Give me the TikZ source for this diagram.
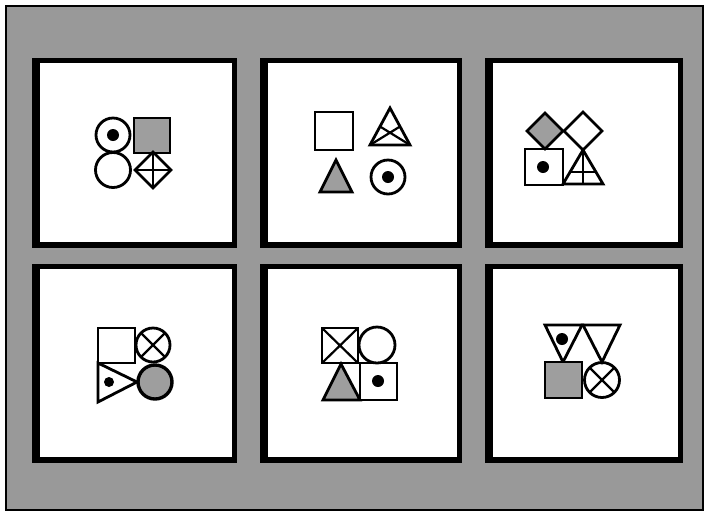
\documentclass[tikz,border=0pt]{standalone}
\begin{document}
\begin{tikzpicture}[x=1pt,y=-1pt,
  shp/.style={draw=black,line width=2.8pt,line join=miter},
  inl/.style={draw=black,line width=2.2pt},
  gf/.style={fill=black!38},
  dotc/.style={fill=black}]
\useasboundingbox (0,0) rectangle (708,515);
\fill[white] (0,0) rectangle (708,515);
\fill[black!40] (6,6) rectangle (703,510);
\draw[line width=2pt] (6,6) rectangle (703,510);
% panels
\foreach \xa/\xb in {32/237, 260/462, 485/683}{
  \foreach \ya/\yb in {58/248, 264/463}{
    \fill[black] (\xa,\ya) rectangle (\xb,\yb);
    \fill[white] (\xa+8,\ya+5) rectangle (\xb-5,\yb-6);
  }
}
% ---- panel 1
\draw[shp] (113,135) circle[radius=17pt];
\fill[dotc] (113,135) circle[radius=6pt];
\draw[shp] (113,170) circle[radius=17.5pt];
\draw[shp,gf] (134,118) rectangle (170,153);
\draw[shp] (153,152) -- (171,170) -- (153,188) -- (135,170) -- cycle;
\draw[inl] (153,152) -- (153,188) (135,170) -- (171,170);
% ---- panel 2
\draw[shp] (315,112) rectangle (353,150);
\draw[shp] (390,108) -- (410,145) -- (370,145) -- cycle;
\draw[inl] (380,126.5) -- (410,145) (400,126.5) -- (370,145);
\draw[shp,gf] (336,160) -- (352,192) -- (320,192) -- cycle;
\draw[shp] (388,177) circle[radius=17pt];
\fill[dotc] (388,177) circle[radius=6pt];
% ---- panel 3
\draw[shp,gf] (545,113) -- (563,131) -- (545,149) -- (527,131) -- cycle;
\draw[shp] (583,112) -- (602,131) -- (583,150) -- (564,131) -- cycle;
\draw[shp] (525,149) rectangle (563,185);
\fill[dotc] (543,167) circle[radius=6pt];
\draw[shp] (583,150) -- (603,184) -- (563,184) -- cycle;
\draw[inl] (583,150) -- (583,184) (570,172) -- (596,172);
% ---- panel 4
\draw[shp] (98,328) rectangle (135,363);
\draw[shp] (153,345) circle[radius=17pt];
\draw[inl] (141,333) -- (165,357) (141,357) -- (165,333);
\draw[shp] (98,363) -- (137,382) -- (98,402) -- cycle;
\fill[dotc] (109,382) circle[radius=5pt];
\draw[shp,gf,line width=3.4pt] (155,382) circle[radius=17pt];
% ---- panel 5
\draw[shp] (322,328) rectangle (358,363);
\draw[inl] (322,328) -- (358,363) (322,363) -- (358,328);
\draw[shp] (377,345) circle[radius=18pt];
\draw[shp,gf] (341,364) -- (360,400) -- (323,400) -- cycle;
\draw[shp] (360,363) rectangle (397,400);
\fill[dotc] (378,381) circle[radius=6pt];
% ---- panel 6
\draw[shp] (545,325) -- (582,325) -- (563,362) -- cycle;
\fill[dotc] (562,339) circle[radius=6pt];
\draw[shp] (583,325) -- (620,325) -- (602,362) -- cycle;
\draw[shp,gf] (545,362) rectangle (582,398);
\draw[shp] (602,380) circle[radius=17.5pt];
\draw[inl] (590,368) -- (614,392) (590,392) -- (614,368);
\end{tikzpicture}
\end{document}
